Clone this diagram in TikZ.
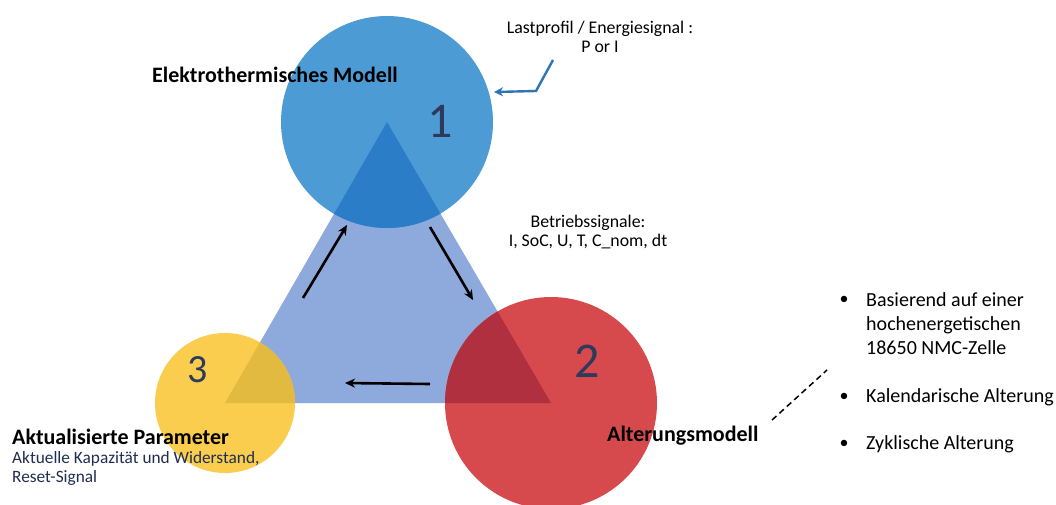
\documentclass[tikz,border=0pt]{standalone}
\usepackage{fontspec}
\setmainfont{Carlito}
\usetikzlibrary{arrows.meta}
\definecolor{triblue}{RGB}{142,169,219}
\definecolor{cblue}{RGB}{76,155,213}
\definecolor{cbluedark}{RGB}{44,125,200}
\definecolor{cred}{RGB}{214,74,77}
\definecolor{creddark}{RGB}{176,48,64}
\definecolor{cyellow}{RGB}{250,205,78}
\definecolor{cyellowdark}{RGB}{226,186,64}
\definecolor{numcol}{RGB}{47,57,90}
\definecolor{sigblue}{RGB}{46,117,182}
\definecolor{subtext}{RGB}{31,45,80}
\tikzset{
  disc/.style={circle, inner sep=0pt, draw=none},
  flow/.style={draw=black, line width=2.6pt, -{Stealth[length=10pt,width=9pt]}},
  num/.style={text=numcol, font=\fontsize{50}{50}\selectfont},
  title/.style={font=\fontsize{22}{24}\selectfont\bfseries, inner sep=0pt},
  small/.style={font=\fontsize{17.8}{19}\selectfont, align=center, inner sep=0pt},
  bullettext/.style={font=\fontsize{20}{24}\selectfont, anchor=west, inner sep=0pt, align=left},
}
\begin{document}
\begin{tikzpicture}[x=1pt,y=-1pt]
\useasboundingbox (0,0) rectangle (1056,504);
% triangle corners
\coordinate (top) at (387,122);
\coordinate (bl) at (225,403);
\coordinate (br) at (551,403);
% base triangle
\fill[triblue] (top) -- (bl) -- (br) -- cycle;
% three model circles centred on the corners
\node[disc, fill=cblue, minimum size=212pt] (m1) at (top) {};
\node[disc, fill=cred, minimum size=212pt] (m2) at (br) {};
\node[disc, fill=cyellow, minimum size=140pt] (m3) at (bl) {};
% darker overlap of each circle with the triangle
\begin{scope}
  \clip (top) circle[radius=106pt];
  \fill[cbluedark] (top) -- (bl) -- (br) -- cycle;
\end{scope}
\begin{scope}
  \clip (br) circle[radius=106pt];
  \fill[creddark] (top) -- (bl) -- (br) -- cycle;
\end{scope}
\begin{scope}
  \clip (bl) circle[radius=70pt];
  \fill[cyellowdark] (top) -- (bl) -- (br) -- cycle;
\end{scope}
% numbers
\node[num] (n1) at (440,121) {1};
\node[num] (n2) at (587,361) {2};
\node[num, font=\fontsize{40}{40}\selectfont] (n3) at (198,370) {3};
% cycle arrows
\coordinate (a1s) at (430,227);
\coordinate (a1e) at (473,300);
\coordinate (a2s) at (430,384);
\coordinate (a2e) at (345,383);
\coordinate (a3s) at (303,298);
\coordinate (a3e) at (347,225);
\draw[flow] (a1s) -- (a1e);
\draw[flow] (a2s) -- (a2e);
\draw[flow] (a3s) -- (a3e);
% load profile input
\node[small] (load) at (600,37) {Lastprofil / Energiesignal :\\P or I};
\coordinate (ls) at (553,60);
\coordinate (lk) at (536,91);
\coordinate (le) at (494,92);
\draw[sigblue, line width=2.4pt, -{Stealth[length=9pt,width=9pt]}] (ls) -- (lk) -- (le);
% operating signals
\node[small] (ops) at (588,232) {Betriebssignale:\\I, SoC, U, T, C\_nom, dt};
% titles
\node[title, anchor=west] (t1) at (152,75) {Elektrothermisches Modell};
\node[title, anchor=west] (t2) at (607,436) {Alterungsmodell};
\node[title, anchor=west] (t3) at (12,437) {Aktualisierte Parameter};
\node[anchor=north west, inner sep=0pt, align=left, text=subtext,
      font=\fontsize{17.3}{19}\selectfont] (t3sub) at (12,451)
      {Aktuelle Kapazität und Widerstand,\\Reset-Signal};
% ageing model details
\coordinate (ds) at (772,420);
\coordinate (de) at (827,370);
\draw[black, line width=1.5pt, dash pattern=on 6pt off 4pt] (ds) -- (de);
\node[bullettext] (b1) at (866,324) {Basierend auf einer\\hochenergetischen\\18650 NMC-Zelle};
\node[bullettext] (b2) at (866,397) {Kalendarische Alterung};
\node[bullettext] (b3) at (866,444) {Zyklische Alterung};
\foreach \y/\n in {300/d1,397/d2,444/d3}
  \node[inner sep=0pt, font=\fontsize{18}{18}\selectfont] (\n) at (844,\y) {•};
\end{tikzpicture}
\end{document}
